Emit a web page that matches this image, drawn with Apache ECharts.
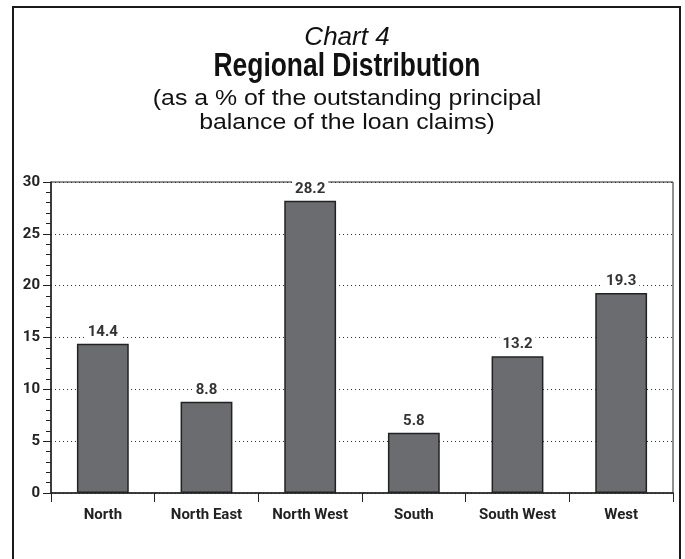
<!DOCTYPE html>
<html>
<head>
<meta charset="utf-8">
<script src="https://cdn.jsdelivr.net/npm/echarts@6/dist/echarts.min.js"></script>
<style>
html,body{margin:0;padding:0;background:#fff;}
#c{width:685px;height:559px;}
</style>
</head>
<body>
<div id="c"></div>
<script>
var categories = ['North', 'North East', 'North West', 'South', 'South West', 'West'];
var values = [14.4, 8.8, 28.2, 5.8, 13.2, 19.3];
var yTicks = [0, 5, 10, 15, 20, 25, 30];

var bold = 'Roboto, "Liberation Sans", Arial, sans-serif';
var reg = '"Liberation Sans", Arial, sans-serif';

var chart = echarts.init(document.getElementById('c'));
chart.setOption({
  animation: false,
  backgroundColor: '#fff',
  graphic: [
    { type: 'rect', shape: { x: 13, y: 7, width: 667, height: 580 },
      style: { fill: 'none', stroke: '#1a1a1a', lineWidth: 2 }, z: 0 },
    { type: 'text', x: 347, y: 38,
      style: { text: 'Chart 4', font: 'italic 26px ' + reg, fill: '#111', textAlign: 'center', textVerticalAlign: 'middle' } },
    { type: 'text', x: 347, y: 67, scaleX: 0.8,
      style: { text: 'Regional Distribution', font: 'bold 33px ' + reg, fill: '#111', textAlign: 'center', textVerticalAlign: 'middle' } },
    { type: 'text', x: 347, y: 99, scaleX: 1.13,
      style: { text: '(as a % of the outstanding principal', font: '22px ' + reg, fill: '#111', textAlign: 'center', textVerticalAlign: 'middle' } },
    { type: 'text', x: 347, y: 123, scaleX: 1.13,
      style: { text: 'balance of the loan claims)', font: '22px ' + reg, fill: '#111', textAlign: 'center', textVerticalAlign: 'middle' } }
  ],
  grid: { left: 51, right: 12, top: 182, bottom: 66, show: true, borderColor: '#222', borderWidth: 1 },
  xAxis: {
    type: 'category',
    data: categories,
    axisLine: { lineStyle: { color: '#222', width: 1.5 } },
    axisTick: { show: true, length: 9, lineStyle: { color: '#222', width: 1 } },
    axisLabel: { interval: 0, margin: 15, fontFamily: bold, fontWeight: 'bold', fontSize: 15, color: '#222' }
  },
  yAxis: {
    type: 'value',
    min: 0, max: 30, interval: 5,
    axisLine: { show: true, lineStyle: { color: '#222', width: 1.5 } },
    axisTick: { show: true, length: 8, lineStyle: { color: '#222', width: 1 } },
    minorTick: { show: true, splitNumber: 5, length: 5, lineStyle: { color: '#222', width: 1 } },
    axisLabel: { margin: 11, fontFamily: bold, fontWeight: 'bold', fontSize: 15, color: '#222',
      formatter: function (v) { return yTicks.indexOf(v) >= 0 ? String(v) : ''; } },
    splitLine: { show: true, lineStyle: { color: '#333', width: 1, type: [1, 3] } }
  },
  series: [{
    type: 'bar',
    data: values,
    barWidth: '50%',
    itemStyle: { color: '#6b6c70', borderColor: '#222', borderWidth: 1.5 },
    label: { show: true, position: 'top', distance: 2, fontFamily: bold, fontWeight: 'bold',
      fontSize: 15, color: '#333', backgroundColor: '#fff', padding: [2, 3],
      formatter: function (p) { return p.value.toFixed(1); } }
  }]
});
</script>
</body>
</html>
